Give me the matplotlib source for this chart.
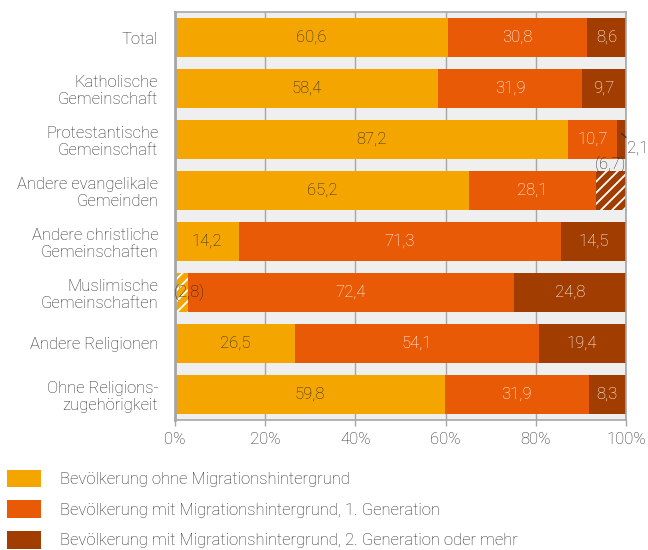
import numpy as np
import matplotlib.pyplot as plt
from matplotlib.patches import Patch

plt.rcParams['font.family'] = ['Roboto', 'DejaVu Sans']
plt.rcParams['font.weight'] = 'light'
plt.rcParams['hatch.linewidth'] = 1.3

# Data
categories = ['Total', 'Katholische\nGemeinschaft', 'Protestantische\nGemeinschaft',
              'Andere evangelikale\nGemeinden', 'Andere christliche\nGemeinschaften',
              'Muslimische\nGemeinschaften', 'Andere Religionen',
              'Ohne Religions-\nzugehörigkeit']
ohne_mh = [60.6, 58.4, 87.2, 65.2, 14.2, 2.8, 26.5, 59.8]
gen1 = [30.8, 31.9, 10.7, 28.1, 71.3, 72.4, 54.1, 31.9]
gen2 = [8.6, 9.7, 2.1, 6.7, 14.5, 24.8, 19.4, 8.3]
series_names = ['Bevölkerung ohne Migrationshintergrund',
                'Bevölkerung mit Migrationshintergrund, 1. Generation',
                'Bevölkerung mit Migrationshintergrund, 2. Generation oder mehr']

# uncertain values (shown hatched and in brackets)
hatched = {(3, 2), (5, 0)}

colors = ['#F5A500', '#E85A05', '#A13D00']
text_colors = ['#2b2b2b', 'white', 'white']
dark = '#2b2b2b'
grey = '#A6A6A6'
fs = 12

fig = plt.figure(figsize=(6.48, 5.5), dpi=100)
ax = fig.add_axes([175 / 648, 1 - 420 / 550, 451 / 648, 408 / 550])
ax.set_facecolor('#EFEFEF')

y = np.arange(len(categories))
left = np.zeros(len(categories))
for s, vals in enumerate([ohne_mh, gen1, gen2]):
    vals = np.array(vals)
    for i, v in enumerate(vals):
        is_hatched = (i, s) in hatched
        ax.barh(y[i], v, left=left[i], height=0.75, color=colors[s],
                edgecolor='white' if is_hatched else colors[s],
                hatch='///' if is_hatched else None,
                linewidth=0, zorder=2)
        label = f'{v:.1f}'.replace('.', ',')
        cx = left[i] + v / 2
        if is_hatched and s == 2:
            ax.text(cx, y[i] - 0.52, f'({label})', ha='center', va='center',
                    fontsize=fs, color=dark, zorder=3)
        elif is_hatched and s == 0:
            ax.text(-0.3, y[i], f'({label})', ha='left', va='center',
                    fontsize=fs, color=dark, zorder=3)
        elif v < 5:
            # small value: label outside the bar with a short leader line
            ax.annotate(label, xy=(left[i] + v / 2, y[i] - 0.12),
                        xytext=(100.3, y[i] + 0.16), ha='left', va='center',
                        fontsize=fs, color=dark, annotation_clip=False,
                        arrowprops=dict(arrowstyle='-', color=dark, lw=0.8,
                                        shrinkA=7, shrinkB=0),
                        zorder=3)
        else:
            ax.text(cx, y[i], label, ha='center', va='center', fontsize=fs,
                    color=text_colors[s], zorder=3)
    left += vals

ax.set_xlim(0, 100)
ax.set_ylim(len(categories) - 0.5, -0.5)
ax.set_yticks(y)
ax.set_yticklabels(categories, fontsize=fs, color=dark, ha='right',
                   multialignment='right')
ax.tick_params(axis='y', length=0, pad=12)
ax.set_xticks(np.arange(0, 101, 20))
ax.set_xticklabels([f'{t}%' for t in range(0, 101, 20)], fontsize=fs, color=dark)
ax.tick_params(axis='x', length=4, color=grey, width=1, pad=5)
ax.grid(axis='x', color=grey, linewidth=1, zorder=0)
ax.set_axisbelow(True)
for side in ['left', 'right', 'top', 'bottom']:
    ax.spines[side].set_color(grey)
    ax.spines[side].set_linewidth(1.2)
ax.spines['left'].set_linewidth(2)

handles = [Patch(facecolor=c, edgecolor='none') for c in colors]
fig.legend(handles, series_names, loc='upper left', bbox_to_anchor=(0.0, 0.158),
           frameon=False, fontsize=fs, labelcolor=dark,
           handlelength=2.05, handleheight=1.25, handletextpad=1.15,
           labelspacing=0.78, borderaxespad=0, borderpad=0.4)

fig.savefig('out.png', dpi=100)
